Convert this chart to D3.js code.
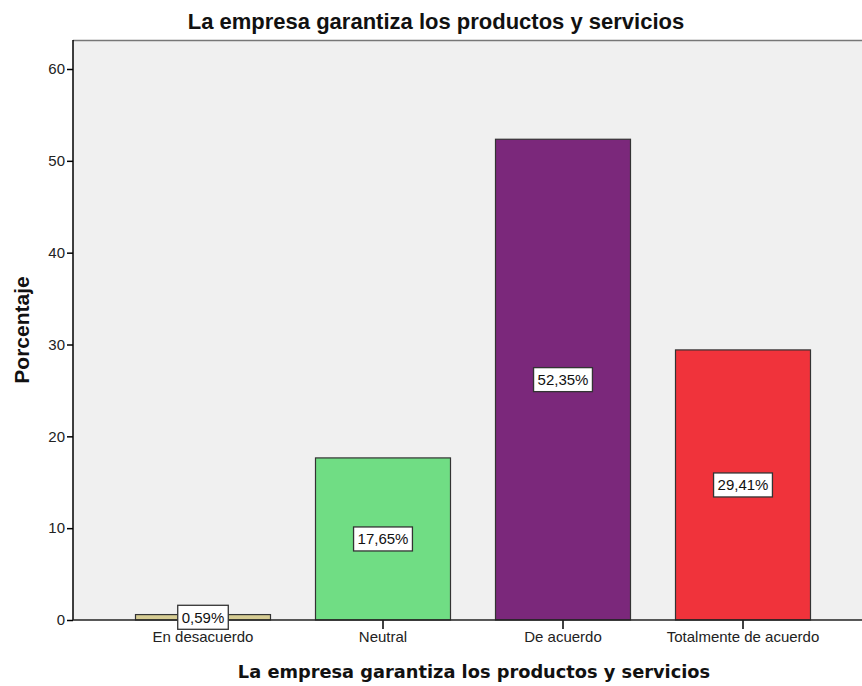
<!DOCTYPE html>
<html>
<head>
<meta charset="utf-8">
<script src="https://cdn.jsdelivr.net/npm/d3@7"></script>
<style>
  body { margin: 0; background: #fff; }
  svg { display: block; }
</style>
</head>
<body>
<svg id="chart" width="862" height="686"></svg>
<script>
// Chart data
const categories = ['En desacuerdo', 'Neutral', 'De acuerdo', 'Totalmente de acuerdo'];
const percentages = [0.59, 17.65, 52.35, 29.41];
const labels = ['0,59%', '17,65%', '52,35%', '29,41%'];
const barColors = ['#d6cc93', '#70dd84', '#7b287b', '#f0333b'];
const yTicks = [0, 10, 20, 30, 40, 50, 60];

const svg = d3.select('#chart');

// Plot area
const plot = { left: 73, top: 40, right: 900, bottom: 620 };

// Scales
const x = d3.scaleBand()
  .domain(categories)
  .range([113, 833])
  .paddingInner(0.25)
  .paddingOuter(0.125);

const y = d3.scaleLinear()
  .domain([0, 60])
  .range([620, 69]);

// Background
svg.append('rect')
  .attr('x', plot.left)
  .attr('y', plot.top)
  .attr('width', plot.right - plot.left)
  .attr('height', plot.bottom - plot.top)
  .attr('fill', '#f0f0f0');

// Top border
svg.append('line')
  .attr('x1', plot.left).attr('x2', plot.right)
  .attr('y1', plot.top + 0.5).attr('y2', plot.top + 0.5)
  .attr('stroke', '#777').attr('stroke-width', 1.5);

// Bars
const data = categories.map((c, i) => ({ cat: c, value: percentages[i], label: labels[i], color: barColors[i] }));

svg.append('g')
  .selectAll('rect')
  .data(data)
  .enter()
  .append('rect')
  .attr('x', d => x(d.cat))
  .attr('y', d => y(d.value))
  .attr('width', x.bandwidth())
  .attr('height', d => y(0) - y(d.value))
  .attr('fill', d => d.color)
  .attr('stroke', '#333')
  .attr('stroke-width', 1.2);

// Y axis
const yAxis = svg.append('g')
  .attr('transform', `translate(${plot.left},0)`)
  .call(d3.axisLeft(y).tickValues(yTicks).tickSize(6).tickSizeOuter(0).tickPadding(2));
yAxis.select('.domain').remove();
yAxis.append('line')
  .attr('x1', 0).attr('x2', 0)
  .attr('y1', plot.top).attr('y2', plot.bottom)
  .attr('stroke', '#000').attr('stroke-width', 1.5);
yAxis.selectAll('.tick line').attr('stroke', '#000').attr('stroke-width', 1.5);
yAxis.selectAll('.tick text')
  .attr('font-family', 'Liberation Sans, Arial, sans-serif')
  .attr('font-size', 15)
  .attr('fill', '#222');

// X axis
const xAxis = svg.append('g')
  .attr('transform', `translate(0,${plot.bottom})`)
  .call(d3.axisBottom(x).tickSize(9).tickSizeOuter(0).tickPadding(2));
xAxis.select('.domain').remove();
xAxis.append('line')
  .attr('x1', plot.left).attr('x2', plot.right)
  .attr('y1', 0).attr('y2', 0)
  .attr('stroke', '#222').attr('stroke-width', 1.5);
xAxis.selectAll('.tick line').attr('stroke', '#000').attr('stroke-width', 1.5);
xAxis.selectAll('.tick text')
  .attr('font-family', 'Liberation Sans, Arial, sans-serif')
  .attr('font-size', 15)
  .attr('fill', '#222');

// Value labels
const labelGroup = svg.append('g')
  .selectAll('g')
  .data(data)
  .enter()
  .append('g')
  .attr('transform', d => `translate(${x(d.cat) + x.bandwidth() / 2},${y(d.value / 2)})`);

labelGroup.append('text')
  .attr('text-anchor', 'middle')
  .attr('dy', '0.36em')
  .attr('font-family', 'Liberation Sans, Arial, sans-serif')
  .attr('font-size', 15)
  .attr('fill', '#111')
  .text(d => d.label);

labelGroup.each(function() {
  const g = d3.select(this);
  const bb = g.select('text').node().getBBox();
  g.insert('rect', 'text')
    .attr('x', bb.x - 4)
    .attr('y', -12)
    .attr('width', bb.width + 8)
    .attr('height', 24)
    .attr('fill', '#fff')
    .attr('stroke', '#333')
    .attr('stroke-width', 1.3);
});

// Title
svg.append('text')
  .attr('x', 436)
  .attr('y', 29)
  .attr('text-anchor', 'middle')
  .attr('font-family', 'Liberation Sans, Arial, sans-serif')
  .attr('font-weight', 'bold')
  .attr('font-size', 22)
  .attr('fill', '#111')
  .text('La empresa garantiza los productos y servicios');

// X axis title
svg.append('text')
  .attr('x', 474)
  .attr('y', 678)
  .attr('text-anchor', 'middle')
  .attr('font-family', 'DejaVu Sans, sans-serif')
  .attr('font-weight', 'bold')
  .attr('font-size', 17.8)
  .attr('fill', '#111')
  .text('La empresa garantiza los productos y servicios');

// Y axis title
svg.append('text')
  .attr('transform', 'translate(29,330) rotate(-90)')
  .attr('text-anchor', 'middle')
  .attr('font-family', 'Liberation Sans, Arial, sans-serif')
  .attr('font-weight', 'bold')
  .attr('font-size', 21)
  .attr('fill', '#111')
  .text('Porcentaje');
</script>
</body>
</html>
